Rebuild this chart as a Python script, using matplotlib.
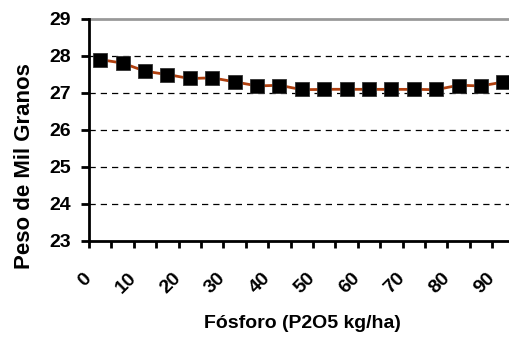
import matplotlib
matplotlib.use("Agg")
import matplotlib.pyplot as plt
from matplotlib.transforms import ScaledTranslation
import numpy as np

fosforo = [0, 5, 10, 15, 20, 25, 30, 35, 40, 45, 50, 55, 60, 65, 70, 75, 80, 85, 90]
peso = [27.9, 27.8, 27.6, 27.5, 27.4, 27.4, 27.3, 27.2, 27.2, 27.1,
        27.1, 27.1, 27.1, 27.1, 27.1, 27.1, 27.2, 27.2, 27.3]
yticks = [23, 24, 25, 26, 27, 28, 29]

plt.rcParams['font.family'] = ['Liberation Sans', 'DejaVu Sans']
plt.rcParams['font.weight'] = 'bold'

W, H = 509, 337
AX_L, AX_B, AX_W, AX_H = 89, 96, 425.6, 222
fig = plt.figure(figsize=(W / 100, H / 100), dpi=100)
ax = fig.add_axes([AX_L / W, AX_B / H, AX_W / W, AX_H / H])

n = len(fosforo)
xpos = np.arange(n)

# smooth line through the points (Catmull-Rom style)
def smooth(x, y, k=12):
    x = np.asarray(x, float); y = np.asarray(y, float)
    px = np.concatenate([[x[0]], x, [x[-1]]])
    py = np.concatenate([[y[0]], y, [y[-1]]])
    xs, ys = [], []
    for i in range(1, len(px) - 2):
        t = np.linspace(0, 1, k, endpoint=False)
        for p, out in ((px, xs), (py, ys)):
            p0, p1, p2, p3 = p[i-1], p[i], p[i+1], p[i+2]
            out.extend(0.5 * ((2*p1) + (-p0 + p2)*t + (2*p0 - 5*p1 + 4*p2 - p3)*t**2
                              + (-p0 + 3*p1 - 3*p2 + p3)*t**3))
    xs.append(x[-1]); ys.append(y[-1])
    return np.array(xs), np.array(ys)

sx, sy = smooth(xpos, peso)
ax.plot(sx, sy, color='#B0400F', lw=2.0, zorder=3, clip_on=False)
ax.plot(xpos, peso, linestyle='none', marker='s', markersize=10.5,
        color='black', markeredgecolor='#333333', markeredgewidth=0.6,
        zorder=4, clip_on=False)

ax.set_xlim(-0.5, n - 0.5)
ax.set_ylim(23, 29)
ax.set_yticks(yticks)
for v in yticks[1:-1]:
    ax.axhline(v, color='black', lw=0.9, dashes=(5, 4), zorder=1)
ax.axhline(29, color='#999999', lw=2.0, zorder=1, clip_on=False)

for s in ['top', 'right']:
    ax.spines[s].set_visible(False)
for s in ['left', 'bottom']:
    ax.spines[s].set_linewidth(2.0)
    ax.spines[s].set_color('black')

ax.set_xticks(np.arange(-0.5, n, 1.0))
ax.set_xticklabels([])
ax.set_xticks(xpos[::2], minor=True)
ax.set_xticklabels([str(v) for v in fosforo[::2]], minor=True, rotation=45,
                   ha='right', va='center', rotation_mode='anchor', fontsize=14,
                   fontweight='bold')
ax.tick_params(axis='x', which='major', direction='out', length=5, width=2)
ax.tick_params(axis='x', which='minor', length=0, pad=35 * 0.72)
off = ScaledTranslation(-11.5 / 100, 0, fig.dpi_scale_trans)
for lab in ax.get_xticklabels(minor=True):
    lab.set_transform(lab.get_transform() + off)

ax.tick_params(axis='y', direction='out', length=6, width=2, labelsize=14, pad=7)
for lab in ax.get_yticklabels():
    lab.set_fontweight('bold')

ax.set_xlabel('Fósforo (P2O5 kg/ha)', fontsize=14, fontweight='bold')
ax.set_ylabel('Peso de Mil Granos', fontsize=16, fontweight='bold')
ax.xaxis.label.set_va('center')
ax.yaxis.label.set_va('center')
ax.xaxis.set_label_coords((302 - AX_L) / AX_W, -(324 - 241) / AX_H)
ax.yaxis.set_label_coords(-(AX_L - 25) / AX_W, (241 - 166) / AX_H)

fig.savefig('out.png', dpi=100)
